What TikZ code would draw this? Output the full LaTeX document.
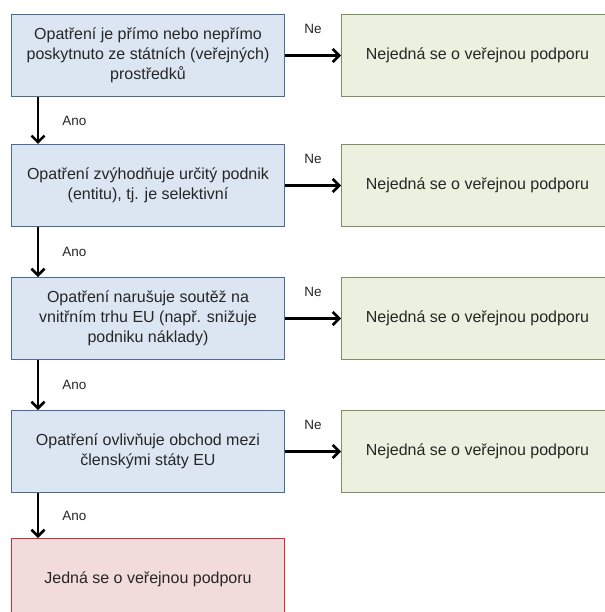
\documentclass[tikz,border=0pt]{standalone}
\usepackage{fontspec}
\setmainfont{Liberation Sans}
\usetikzlibrary{arrows.meta,positioning}

\definecolor{qfill}{HTML}{DCE6F2}
\definecolor{qline}{HTML}{4A6A96}
\definecolor{nfill}{HTML}{EBF1DE}
\definecolor{nline}{HTML}{7F9060}
\definecolor{yfill}{HTML}{F2DCDB}
\definecolor{yline}{HTML}{E0282A}
\definecolor{txt}{HTML}{262626}

\begin{document}
\begin{tikzpicture}[node distance=47pt,auto,every node/.append style={align=center,text=txt},
  quest/.style={draw=qline, fill=qfill, line width=1pt, minimum width=273pt, minimum height=82pt, font=\fontsize{16}{20}\selectfont},
  nobox/.style={draw=nline, fill=nfill, line width=1pt, minimum width=272pt, minimum height=82pt, font=\fontsize{16}{20}\selectfont},
  yesbox/.style={draw=yline, fill=yfill, line width=1pt, minimum width=273pt, minimum height=82pt, font=\fontsize{16}{20}\selectfont},
  lab/.style={font=\fontsize{13.5}{16}\selectfont, inner sep=1pt},
  arr/.style={line width=2.6pt, -{Straight Barb[length=6.5pt,width=13pt,line width=2.6pt]}},]
    \useasboundingbox (0,0) rectangle (604pt,-612pt);
    \node [quest, anchor=north west] (q1) at (11pt,-14pt) {Opatření je přímo nebo nepřímo\\poskytnuto ze státních (veřejných)\\prostředků};
    \node [quest, below=of q1] (q2) {Opatření zvýhodňuje určitý podnik\\(entitu), tj. je selektivní};
    \node [quest, below=50pt of q2] (q3) {Opatření narušuje soutěž na\\vnitřním trhu EU (např. snižuje\\podniku náklady)};
    \node [quest, below=50pt of q3] (q4) {Opatření ovlivňuje obchod mezi\\členskými státy EU};
    \node [yesbox, below=45pt of q4] (yes) {Jedná se o veřejnou podporu};
    \node [nobox, right=56pt of q1] (n1) {Nejedná se o veřejnou podporu};
    \node [nobox, right=56pt of q2] (n2) {Nejedná se o veřejnou podporu};
    \node [nobox, right=56pt of q3] (n3) {Nejedná se o veřejnou podporu};
    \node [nobox, right=56pt of q4] (n4) {Nejedná se o veřejnou podporu};
    \path[arr] (q1) edge node [lab, above=20pt] {Ne} (n1);
    \path[arr] (q2) edge node [lab, above=20pt] {Ne} (n2);
    \path[arr] (q3) edge node [lab, above=20pt] {Ne} (n3);
    \path[arr] (q4) edge node [lab, above=20pt] {Ne} (n4);
    \path[arr] ([xshift=27pt]q1.south west) edge node [lab, right=22pt] {Ano} ([xshift=27pt]q2.north west);
    \path[arr] ([xshift=27pt]q2.south west) edge node [lab, right=22pt] {Ano} ([xshift=27pt]q3.north west);
    \path[arr] ([xshift=27pt]q3.south west) edge node [lab, right=22pt] {Ano} ([xshift=27pt]q4.north west);
    \path[arr] ([xshift=27pt]q4.south west) edge node [lab, right=22pt] {Ano} ([xshift=27pt]yes.north west);
\end{tikzpicture}
\end{document}
